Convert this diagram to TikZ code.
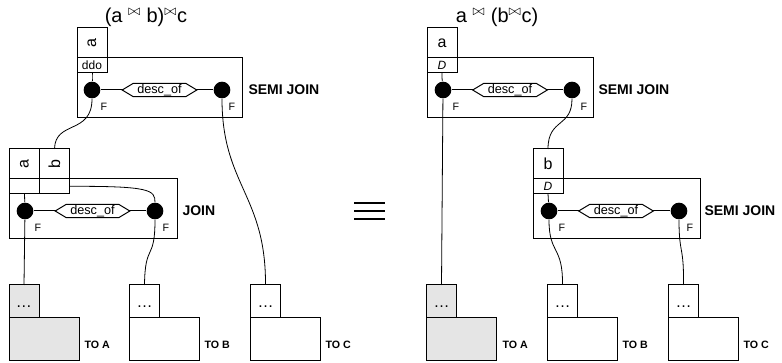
\documentclass[tikz,border=0pt]{standalone}
\usepackage{fontspec}
\setmainfont{Liberation Sans}
\usepackage{graphicx}
\usetikzlibrary{positioning,shapes.symbols}

\tikzset{every picture/.style={line width=0.75pt}}
\tikzset{
cell/.style={draw, fill=white, inner sep=0pt, outer sep=0pt, minimum width=22.5pt, minimum height=22.5pt, font=\fontsize{12}{12}\selectfont},
tag/.style={draw, fill=white, inner sep=0pt, outer sep=0pt, minimum width=22.5pt, minimum height=11pt, font=\fontsize{9}{9}\selectfont},
port/.style={circle, fill=black, inner sep=0pt, minimum size=12.5pt},
pred/.style={draw, fill=white, signal, signal to=east and west, signal pointer angle=62, inner sep=0.5pt, minimum width=56pt, minimum height=10pt, font=\fontsize{9.5}{9.5}\selectfont},
opname/.style={anchor=west, inner sep=0pt, font=\bfseries\fontsize{10.5}{10.5}\selectfont},
flag/.style={inner sep=0pt, font=\fontsize{8}{8}\selectfont},
stub/.style={draw, inner sep=0pt, outer sep=0pt, minimum width=22.5pt, minimum height=24.75pt, font=\fontsize{12}{12}\selectfont},
base/.style={draw, inner sep=0pt, outer sep=0pt, minimum width=52.5pt, minimum height=32.25pt},
target/.style={anchor=west, inner sep=0pt, font=\bfseries\fontsize{8}{8}\selectfont},
wire/.style={line width=0.6pt},
title/.style={inner sep=0pt, font=\fontsize{15}{15}\selectfont}
}
\newcommand{\jn}{\textsuperscript{$\bowtie$}}

\begin{document}
\begin{tikzpicture}[x=0.75pt,y=0.75pt,yscale=-1,xscale=1]
\path[use as bounding box] (0,0) rectangle (782,363);

% Titles
\node[title] (tl) at (146,17) {(a \jn{} b)\jn c};
\node[title] (tr) at (497,17) {a \jn{} (b\jn c)};

%% left plan: (a join b) semi join c
% semi join box
\draw (77,58) rectangle (242,118);
\node[cell] (la) at (92,43) {\rotatebox{90}{a}};
\node[tag, below=0pt of la] (lddo) {ddo};
\node[port] (l1l) at (92,90) {};
\node[port] (l1r) at (222,90) {};
\draw (l1l) -- (l1r);
\node[pred] (l1p) at (159.5,90) {desc\_of};
\node[flag] at (104,107) {F};
\node[flag] at (232,107) {F};
\node[opname] at (248,90) {SEMI JOIN};

% join box
\draw (9,179) rectangle (177,239);
\node[cell] (la2) at (24.5,164) {\rotatebox{90}{a}};
\node[cell, right=0pt of la2] (lb2) {\rotatebox{90}{b}};
\node[tag, below=0pt of la2] (la2t) {};
\node[tag, below=0pt of lb2] (lb2t) {};
\node[port] (l2l) at (25,211) {};
\node[port] (l2r) at (155,211) {};
\draw (l2l) -- (l2r);
\node[pred] (l2p) at (92.5,211) {desc\_of};
\node[flag] at (38,228) {F};
\node[flag] at (166,228) {F};
\node[opname] at (182,211) {JOIN};

% targets
\node[base, fill=gray!20] (lA) at (44,339.5) {};
\node[stub, fill=gray!20, above right=0pt and 0pt of lA.north west] (lAs) {\vphantom{A}…};
\node[target] at (84,345) {TO A};
\node[base] (lB) at (164.5,339.5) {};
\node[stub, above right=0pt and 0pt of lB.north west] (lBs) {\vphantom{A}…};
\node[target] at (204,345) {TO B};
\node[base] (lC) at (285.5,339.5) {};
\node[stub, above right=0pt and 0pt of lC.north west] (lCs) {\vphantom{A}…};
\node[target] at (325,345) {TO C};

% wires
\draw[wire] (lddo.south) .. controls (92,78) .. (l1l);
\draw[wire] (l1l) .. controls (92,135) and (55,120) .. (lb2.north);
\draw[wire] (l1r) .. controls (222,185) and (266,195) .. (lCs.north);
\draw[wire] (la2t.south) -- (l2l);
\draw[wire] (lb2t.east) .. controls (150,186) and (155,190) .. (l2r);
\draw[wire] (l2l) -- (lAs.north);
\draw[wire] (l2r) .. controls (155,262) and (145,242) .. (lBs.north);

% equivalence
\draw[line width=1pt] (354,203) -- (385,203);
\draw[line width=1pt] (354,211) -- (385,211);
\draw[line width=1pt] (354,219) -- (385,219);

%% right plan: a semi join (b semi join c)
% upper semi join box
\draw (427,58) rectangle (593,118);
\node[cell] (ra) at (442,43) {a};
\node[tag, below=0pt of ra] (rD) {\itshape D};
\node[port] (r1l) at (443,90) {};
\node[port] (r1r) at (572,90) {};
\draw (r1l) -- (r1r);
\node[pred] (r1p) at (510,90) {desc\_of};
\node[flag] at (456,107) {F};
\node[flag] at (584,107) {F};
\node[opname] at (598,90) {SEMI JOIN};

% lower semi join box
\draw (533,179) rectangle (700,239);
\node[cell] (rb) at (548,164) {b};
\node[tag, below=0pt of rb] (rD2) {\itshape D};
\node[port] (r2l) at (549,211) {};
\node[port] (r2r) at (679,211) {};
\draw (r2l) -- (r2r);
\node[pred] (r2p) at (616,211) {desc\_of};
\node[flag] at (562,228) {F};
\node[flag] at (690,228) {F};
\node[opname] at (704,211) {SEMI JOIN};

% targets
\node[base, fill=gray!20] (rA) at (461.5,339.5) {};
\node[stub, fill=gray!20, above right=0pt and 0pt of rA.north west] (rAs) {\vphantom{A}…};
\node[target] at (502,345) {TO A};
\node[base] (rB) at (582.5,339.5) {};
\node[stub, above right=0pt and 0pt of rB.north west] (rBs) {\vphantom{A}…};
\node[target] at (622,345) {TO B};
\node[base] (rC) at (703.5,339.5) {};
\node[stub, above right=0pt and 0pt of rC.north west] (rCs) {\vphantom{A}…};
\node[target] at (743,345) {TO C};

% wires
\draw[wire] (rD.south) .. controls (442,78) .. (r1l);
\draw[wire] (r1l) -- (rAs.north);
\draw[wire] (r1r) .. controls (572,128) and (548,118) .. (rb.north);
\draw[wire] (rD2.south) -- (r2l);
\draw[wire] (r2l) .. controls (549,255) and (563,245) .. (rBs.north);
\draw[wire] (r2r) .. controls (679,255) and (684,245) .. (rCs.north);

\end{tikzpicture}
\end{document}
